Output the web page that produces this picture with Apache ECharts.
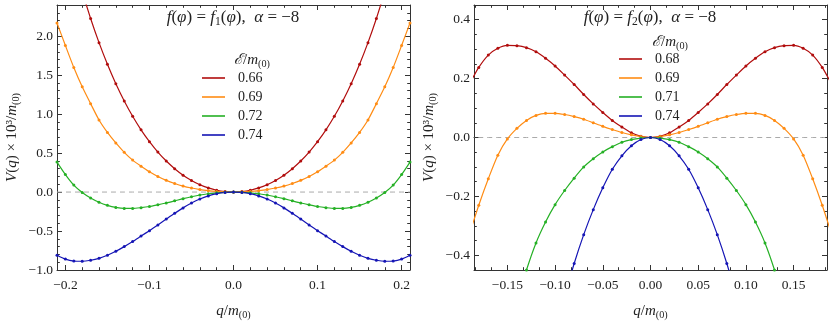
<!DOCTYPE html>
<html><head><meta charset="utf-8">
<script src="https://cdn.jsdelivr.net/npm/echarts@6/dist/echarts.min.js"></script>
<style>html,body{margin:0;padding:0;background:#fff}#c{width:830px;height:327px}</style>
</head><body><div id="c"></div>
<script>
// ---------- data ----------
const qL = [-0.21,-0.20,-0.19,-0.18,-0.17,-0.16,-0.15,-0.14,-0.13,-0.12,-0.11,-0.10,-0.09,-0.08,-0.07,-0.06,-0.05,-0.04,-0.03,-0.02,-0.01,0,
            0.01,0.02,0.03,0.04,0.05,0.06,0.07,0.08,0.09,0.10,0.11,0.12,0.13,0.14,0.15,0.16,0.17,0.18,0.19,0.20,0.21];
const left066 = [null,null,null,2.572,2.227,1.917,1.639,1.390,1.169,0.972,0.798,0.646,0.513,0.398,0.300,0.217,0.149,0.094,0.053,0.023,0.006,0,
                 0.006,0.023,0.053,0.094,0.149,0.217,0.300,0.398,0.513,0.646,0.798,0.972,1.169,1.390,1.639,1.917,2.227,2.572,null,null,null];
const left069 = [2.170,1.880,1.598,1.350,1.134,0.925,0.765,0.630,0.510,0.410,0.332,0.260,0.200,0.150,0.110,0.077,0.052,0.032,0.018,0.008,0.002,0,
                 0.002,0.008,0.018,0.032,0.052,0.077,0.110,0.150,0.200,0.260,0.332,0.410,0.510,0.630,0.765,0.925,1.134,1.350,1.598,1.880,2.170];
const left072 = [0.385,0.225,0.090,-0.005,-0.075,-0.130,-0.170,-0.197,-0.210,-0.210,-0.200,-0.185,-0.163,-0.140,-0.113,-0.085,-0.060,-0.038,-0.022,-0.010,-0.003,0,
                 -0.003,-0.010,-0.022,-0.038,-0.060,-0.085,-0.113,-0.140,-0.163,-0.185,-0.200,-0.210,-0.210,-0.197,-0.170,-0.130,-0.075,-0.005,0.090,0.225,0.385];
const left074 = [-0.810,-0.860,-0.885,-0.888,-0.875,-0.850,-0.810,-0.760,-0.700,-0.635,-0.565,-0.495,-0.422,-0.347,-0.273,-0.203,-0.141,-0.089,-0.049,-0.021,-0.005,0,
                 -0.005,-0.021,-0.049,-0.089,-0.141,-0.203,-0.273,-0.347,-0.422,-0.495,-0.565,-0.635,-0.700,-0.760,-0.810,-0.850,-0.875,-0.888,-0.885,-0.860,-0.810];

const qR = [-0.19,-0.18,-0.17,-0.16,-0.15,-0.14,-0.13,-0.12,-0.11,-0.10,-0.09,-0.08,-0.07,-0.06,-0.05,-0.04,-0.03,-0.02,-0.01,0,
            0.01,0.02,0.03,0.04,0.05,0.06,0.07,0.08,0.09,0.10,0.11,0.12,0.13,0.14,0.15,0.16,0.17,0.18,0.19];
const right068 = [0.180,0.238,0.280,0.303,0.313,0.312,0.305,0.291,0.269,0.243,0.212,0.180,0.146,0.114,0.085,0.058,0.036,0.016,0.004,0,
                  0.004,0.016,0.036,0.058,0.085,0.114,0.146,0.180,0.212,0.243,0.269,0.291,0.305,0.312,0.313,0.303,0.280,0.238,0.180];
const right069 = [-0.330,-0.230,-0.140,-0.060,-0.005,0.031,0.058,0.075,0.082,0.082,0.078,0.071,0.062,0.050,0.038,0.027,0.017,0.009,0.003,0,
                  0.003,0.009,0.017,0.027,0.038,0.050,0.062,0.071,0.078,0.082,0.082,0.075,0.058,0.031,-0.005,-0.060,-0.140,-0.230,-0.330];
const right071 = [null,null,null,null,null,-0.560,-0.450,-0.358,-0.287,-0.228,-0.180,-0.138,-0.100,-0.072,-0.049,-0.031,-0.016,-0.007,-0.002,0,
                  -0.002,-0.007,-0.016,-0.031,-0.049,-0.072,-0.100,-0.138,-0.180,-0.228,-0.287,-0.358,-0.450,-0.560,null,null,null,null,null];
const right074 = [null,null,null,null,null,null,null,null,null,null,-0.540,-0.428,-0.330,-0.245,-0.171,-0.108,-0.062,-0.028,-0.007,0,
                  -0.007,-0.028,-0.062,-0.108,-0.171,-0.245,-0.330,-0.428,-0.540,null,null,null,null,null,null,null,null,null,null];

const namesL = ['0.66','0.69','0.72','0.74'];
const namesR = ['0.68','0.69','0.71','0.74'];

// tick labels / tick positions
const xMajL = [-0.2,-0.1,0,0.1,0.2];
const xMinL = [-0.18,-0.16,-0.14,-0.12,-0.08,-0.06,-0.04,-0.02,0.02,0.04,0.06,0.08,0.12,0.14,0.16,0.18];
const yMajL = [-1.0,-0.5,0,0.5,1.0,1.5,2.0];
const yMinL = [-0.9,-0.8,-0.7,-0.6,-0.4,-0.3,-0.2,-0.1,0.1,0.2,0.3,0.4,0.6,0.7,0.8,0.9,1.1,1.2,1.3,1.4,1.6,1.7,1.8,1.9,2.1,2.2,2.3];
const xMajR = [-0.15,-0.10,-0.05,0,0.05,0.10,0.15];
const xMinR = [-0.18333,-0.16667,-0.13333,-0.11667,-0.08333,-0.06667,-0.03333,-0.01667,0.01667,0.03333,0.06667,0.08333,0.11667,0.13333,0.16667,0.18333];
const yMajR = [-0.4,-0.2,0,0.2,0.4];
const yMinR = [-0.35,-0.3,-0.25,-0.15,-0.1,-0.05,0.05,0.1,0.15,0.25,0.3,0.35];

// ---------- styling ----------
const FONT = "'Liberation Serif','DejaVu Serif',serif";
const colors = {red:'#b10d0d', orange:'#ff8c14', green:'#25b025', blue:'#1515b5'};
const TXT = '#222';
const AX = '#333';
function richSet(fs){
  const sfs = Math.round(fs*0.68*10)/10;
  return {
    i:{fontFamily:FONT, fontStyle:'italic', fontSize:fs, color:TXT},
    n:{fontFamily:FONT, fontSize:fs, color:TXT},
    s:{fontFamily:FONT, fontSize:sfs, color:TXT, padding:[Math.round(fs*0.5),0,0,0]}
  };
}
function fmt(v,d){ return (v < -1e-9 ? '\u2212' : '') + Math.abs(v).toFixed(d); }

function axesFor(kind, gi, min, max, majors, minors, dec, name, nameGap){
  const isX = kind === 'x';
  const pos = isX ? ['bottom','top'] : ['left','right'];
  const out = [];
  pos.forEach((p, pi) => {
    [true,false].forEach(major => {
      out.push({
        type:'value', gridIndex:gi, min:min, max:max, position:p,
        axisLine:{show:major, onZero:false, lineStyle:{color:AX, width:1}},
        axisTick:{show:true, inside:true, length: major?5:2.8, customValues: major?majors:minors, lineStyle:{color:AX, width:1}},
        axisLabel:{show: major && pi===0, customValues: majors, formatter: v=>fmt(v,dec),
                   fontFamily:FONT, fontSize:13.5, color:TXT, margin: isX?8:4},
        splitLine:{show:false},
        name: (major && pi===0) ? name : '',
        nameLocation:'middle', nameGap:nameGap, nameRotate: isX?0:90,
        nameTextStyle:{fontFamily:FONT, fontSize:15, color:TXT, rich:richSet(15)}
      });
    });
  });
  return out;
}

const xName = '{i|q}{n|/}{i|m}{s|(0)}';
const yName = '{i|V}{n|(}{i|q}{n|) × 10³/}{i|m}{s|(0)}';

const xAxis = [].concat(
  axesFor('x',0,-0.21,0.21,xMajL,xMinL,1,xName,32),
  axesFor('x',1,-0.185,0.185,xMajR,xMinR,2,xName,32));
const yAxis = [].concat(
  axesFor('y',0,-1.0,2.4,yMajL,yMinL,1,yName,36),
  axesFor('y',1,-0.45,0.45,yMajR,yMinR,1,yName,36));

function pairs(qs, vs){ const d=[]; qs.forEach((q,i)=>{ if(vs[i]!==null) d.push([q,vs[i]]); }); return d; }
function curve(name, color, qs, vs, xi, yi){
  return {type:'line', name:name, xAxisIndex:xi, yAxisIndex:yi, data:pairs(qs,vs), smooth:0.25,
    symbol:'circle', symbolSize:3, showSymbol:true, clip:true, z:3,
    lineStyle:{color:color, width:1.2}, itemStyle:{color:color}, emphasis:{disabled:true}};
}
function zero(qs, xi, yi){
  return {type:'line', name:'zero', xAxisIndex:xi, yAxisIndex:yi, data:qs.map(q=>[q,0]), symbol:'none', z:1,
    lineStyle:{color:'#aaa', width:1, type:[5,4]}, emphasis:{disabled:true}, silent:true};
}

const series = [
  zero(qL,0,0),
  curve(namesL[0],colors.red,qL,left066,0,0),
  curve(namesL[1],colors.orange,qL,left069,0,0),
  curve(namesL[2],colors.green,qL,left072,0,0),
  curve(namesL[3],colors.blue,qL,left074,0,0),
  zero(qR,4,4),
  curve(namesR[0],colors.red,qR,right068,4,4),
  curve(namesR[1],colors.orange,qR,right069,4,4),
  curve(namesR[2],colors.green,qR,right071,4,4),
  curve(namesR[3],colors.blue,qR,right074,4,4)
];

function legend(names, left, top){
  return {data:names, orient:'vertical', left:left, top:top, padding:0, icon:'rect', itemWidth:23, itemHeight:1.6,
    itemGap:5, selectedMode:false,
    textStyle:{fontFamily:FONT, fontSize:14, color:TXT, lineHeight:14, padding:[0,0,0,8]}};
}
function title(text, x, y, fs){
  return {text:text, left:x, top:y, padding:0, textAlign:'center', textStyle:{fontFamily:FONT, fontSize:fs, fontWeight:'normal', color:TXT, rich:richSet(fs)}};
}
const legTitle = '{i|ℰ}{n|/}{i|m}{s|(0)}';

const option = {
  animation:false,
  backgroundColor:'#fff',
  grid:[{left:57, right:420, top:5, bottom:57}, {left:474, right:3, top:5, bottom:57}],
  title:[
    title('{i|f}{n|(}{i|φ}{n|) = }{i|f}{s|1}{n|(}{i|φ}{n|),  }{i|α}{n| = −8}', 233, 7, 17),
    title('{i|f}{n|(}{i|φ}{n|) = }{i|f}{s|2}{n|(}{i|φ}{n|),  }{i|α}{n| = −8}', 650, 7, 17),
    title(legTitle, 252, 51, 15),
    title(legTitle, 670, 33, 15)
  ],
  legend:[legend(namesL, 202, 71), legend(namesR, 619, 52)],
  xAxis:xAxis, yAxis:yAxis, series:series
};
const chart = echarts.init(document.getElementById('c'), null, {renderer:'canvas'});
chart.setOption(option);
</script></body></html>
